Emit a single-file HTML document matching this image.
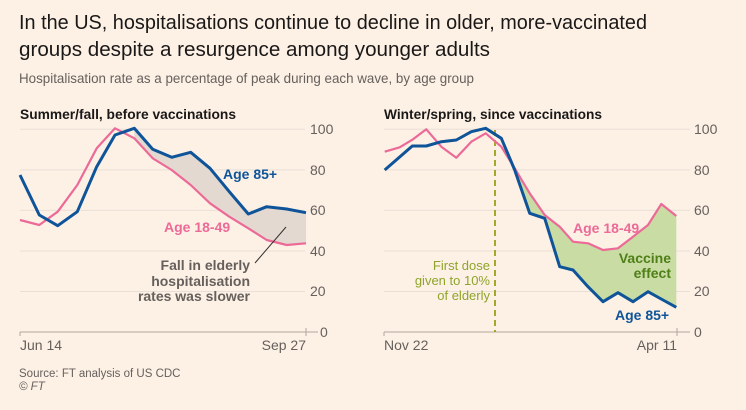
<!DOCTYPE html>
<html><head><meta charset="utf-8"><style>
html,body{margin:0;padding:0;background:#fdf1e6;}
svg{display:block;font-family:"Liberation Sans",sans-serif;}
</style></head><body>
<svg width="746" height="410" viewBox="0 0 746 410" xmlns="http://www.w3.org/2000/svg">
<rect width="746" height="410" fill="#fdf1e6"/>
<text x="19" y="29" font-size="20" fill="#1a1817" textLength="628" lengthAdjust="spacingAndGlyphs">In the US, hospitalisations continue to decline in older, more-vaccinated</text>
<text x="19" y="56" font-size="20" fill="#1a1817" textLength="471" lengthAdjust="spacingAndGlyphs">groups despite a resurgence among younger adults</text>
<text x="19" y="83" font-size="14" fill="#66605c" textLength="455" lengthAdjust="spacingAndGlyphs">Hospitalisation rate as a percentage of peak during each wave, by age group</text>

<text x="20" y="119" font-size="14" font-weight="bold" fill="#1a1817" textLength="216" lengthAdjust="spacingAndGlyphs">Summer/fall, before vaccinations</text>
<text x="384" y="119" font-size="14" font-weight="bold" fill="#1a1817" textLength="218" lengthAdjust="spacingAndGlyphs">Winter/spring, since vaccinations</text>

<g stroke="#e9dfd6" stroke-width="1">
<line x1="20" y1="129.3" x2="305" y2="129.3"/><line x1="20" y1="169.9" x2="305" y2="169.9"/><line x1="20" y1="210.4" x2="305" y2="210.4"/><line x1="20" y1="251" x2="305" y2="251"/><line x1="20" y1="291.5" x2="305" y2="291.5"/>
<line x1="384" y1="129.3" x2="690" y2="129.3"/><line x1="384" y1="169.9" x2="690" y2="169.9"/><line x1="384" y1="210.4" x2="690" y2="210.4"/><line x1="384" y1="251" x2="690" y2="251"/><line x1="384" y1="291.5" x2="690" y2="291.5"/>
</g>
<g stroke="#b0a69e" stroke-width="1" fill="none">
<line x1="20" y1="332" x2="318" y2="332"/><line x1="20" y1="332" x2="20" y2="336"/><line x1="306" y1="328" x2="306" y2="336"/>
<line x1="384" y1="332" x2="690" y2="332"/><line x1="384" y1="332" x2="384" y2="336"/><line x1="677" y1="328" x2="677" y2="336"/>
</g>
<g font-size="14" fill="#66605c">
<text x="310" y="134">100</text><text x="310" y="175">80</text><text x="310" y="215">60</text><text x="310" y="256">40</text><text x="310" y="296">20</text><text x="320" y="337">0</text>
<text x="694" y="134">100</text><text x="694" y="175">80</text><text x="694" y="215">60</text><text x="694" y="256">40</text><text x="694" y="296">20</text><text x="694" y="337">0</text>
<text x="20" y="350">Jun 14</text><text x="306" y="350" text-anchor="end">Sep 27</text>
<text x="384" y="350">Nov 22</text><text x="677" y="350" text-anchor="end">Apr 11</text>
<text x="19" y="377" font-size="11.5">Source: FT analysis of US CDC</text>
<text x="19" y="390" font-size="11.5" font-style="italic">© FT</text>
</g>

<polygon fill="#e3d9d0" points="134.3,128.3 152.7,149.3 171.7,157.3 190.7,152.3 210,168.3 229.3,191.7 248.3,214 266.7,206.7 286.7,209 306,212.7 306,243.3 286.7,245 266.7,240 248.3,228.3 229.3,216.7 210,203.3 190.7,185 171.7,170 152.7,158.3 134.3,138.3"/>
<polygon fill="#c9dca3" points="514.7,170 529.7,213.3 544.7,218.3 559.7,266.7 573,270 588,286.7 603,301.7 618,292.7 633,301.7 648,291.7 663,300 676.3,307.3 676.3,216 661.3,204 648,225 633,236.7 618,248.3 603,250 588,243.3 573,241.7 559.7,226.7 544.7,215 529.7,193.3 514.7,168.3"/>

<polyline fill="none" stroke="#eb6a97" stroke-width="2.2" stroke-linejoin="round" points="20,220 39.3,225 57.7,211.7 77.3,185 96.7,148.3 115,128.3 134.3,138.3 152.7,158.3 171.7,170 190.7,185 210,203.3 229.3,216.7 248.3,228.3 266.7,240 286.7,245 306,243.3"/>
<polyline fill="none" stroke="#0f5499" stroke-width="3" stroke-linejoin="round" points="20,175 39.3,215 57.7,225.7 77.3,211.7 96.7,166.7 115,135 134.3,128.3 152.7,149.3 171.7,157.3 190.7,152.3 210,168.3 229.3,191.7 248.3,214 266.7,206.7 286.7,209 306,212.7"/>

<line x1="495" y1="130" x2="495" y2="332" stroke="#a3a82a" stroke-width="2" stroke-dasharray="6,4"/>
<polyline fill="none" stroke="#eb6a97" stroke-width="2.2" stroke-linejoin="round" points="384.7,151.7 399.7,147.3 413,139.3 426.3,129.3 441.3,146.7 456.3,157.7 471.3,141.7 485.7,133.3 501.3,146.7 514.7,168.3 529.7,193.3 544.7,215 559.7,226.7 573,241.7 588,243.3 603,250 618,248.3 633,236.7 648,225 661.3,204 676.3,216"/>
<polyline fill="none" stroke="#0f5499" stroke-width="3" stroke-linejoin="round" points="384.7,170 412.3,146 426.3,146 441.3,141.7 456.3,140 471.3,131.7 485.7,128.3 501.3,138.3 514.7,170 529.7,213.3 544.7,218.3 559.7,266.7 573,270 588,286.7 603,301.7 618,292.7 633,301.7 648,291.7 663,300 676.3,307.3"/>

<g font-size="14" font-weight="bold">
<text x="223" y="179" fill="#0f5499">Age 85+</text>
<text x="164" y="232" fill="#eb6a97">Age 18-49</text>
<text x="250" y="270" fill="#66605c" text-anchor="end">Fall in elderly</text>
<text x="250" y="286" fill="#66605c" text-anchor="end">hospitalisation</text>
<text x="250" y="301" fill="#66605c" text-anchor="end">rates was slower</text>
<text x="573" y="233" fill="#eb6a97">Age 18-49</text>
<text x="671" y="263" fill="#4f7f17" text-anchor="end">Vaccine</text>
<text x="671" y="278" fill="#4f7f17" text-anchor="end">effect</text>
<text x="615" y="320" fill="#0f5499">Age 85+</text>
</g>
<line x1="255" y1="263" x2="286" y2="227" stroke="#33302e" stroke-width="1"/>
<g font-size="13" fill="#8ea42a" text-anchor="end">
<text x="490" y="270">First dose</text>
<text x="490" y="285">given to 10%</text>
<text x="490" y="300">of elderly</text>
</g>
</svg>
</body></html>
